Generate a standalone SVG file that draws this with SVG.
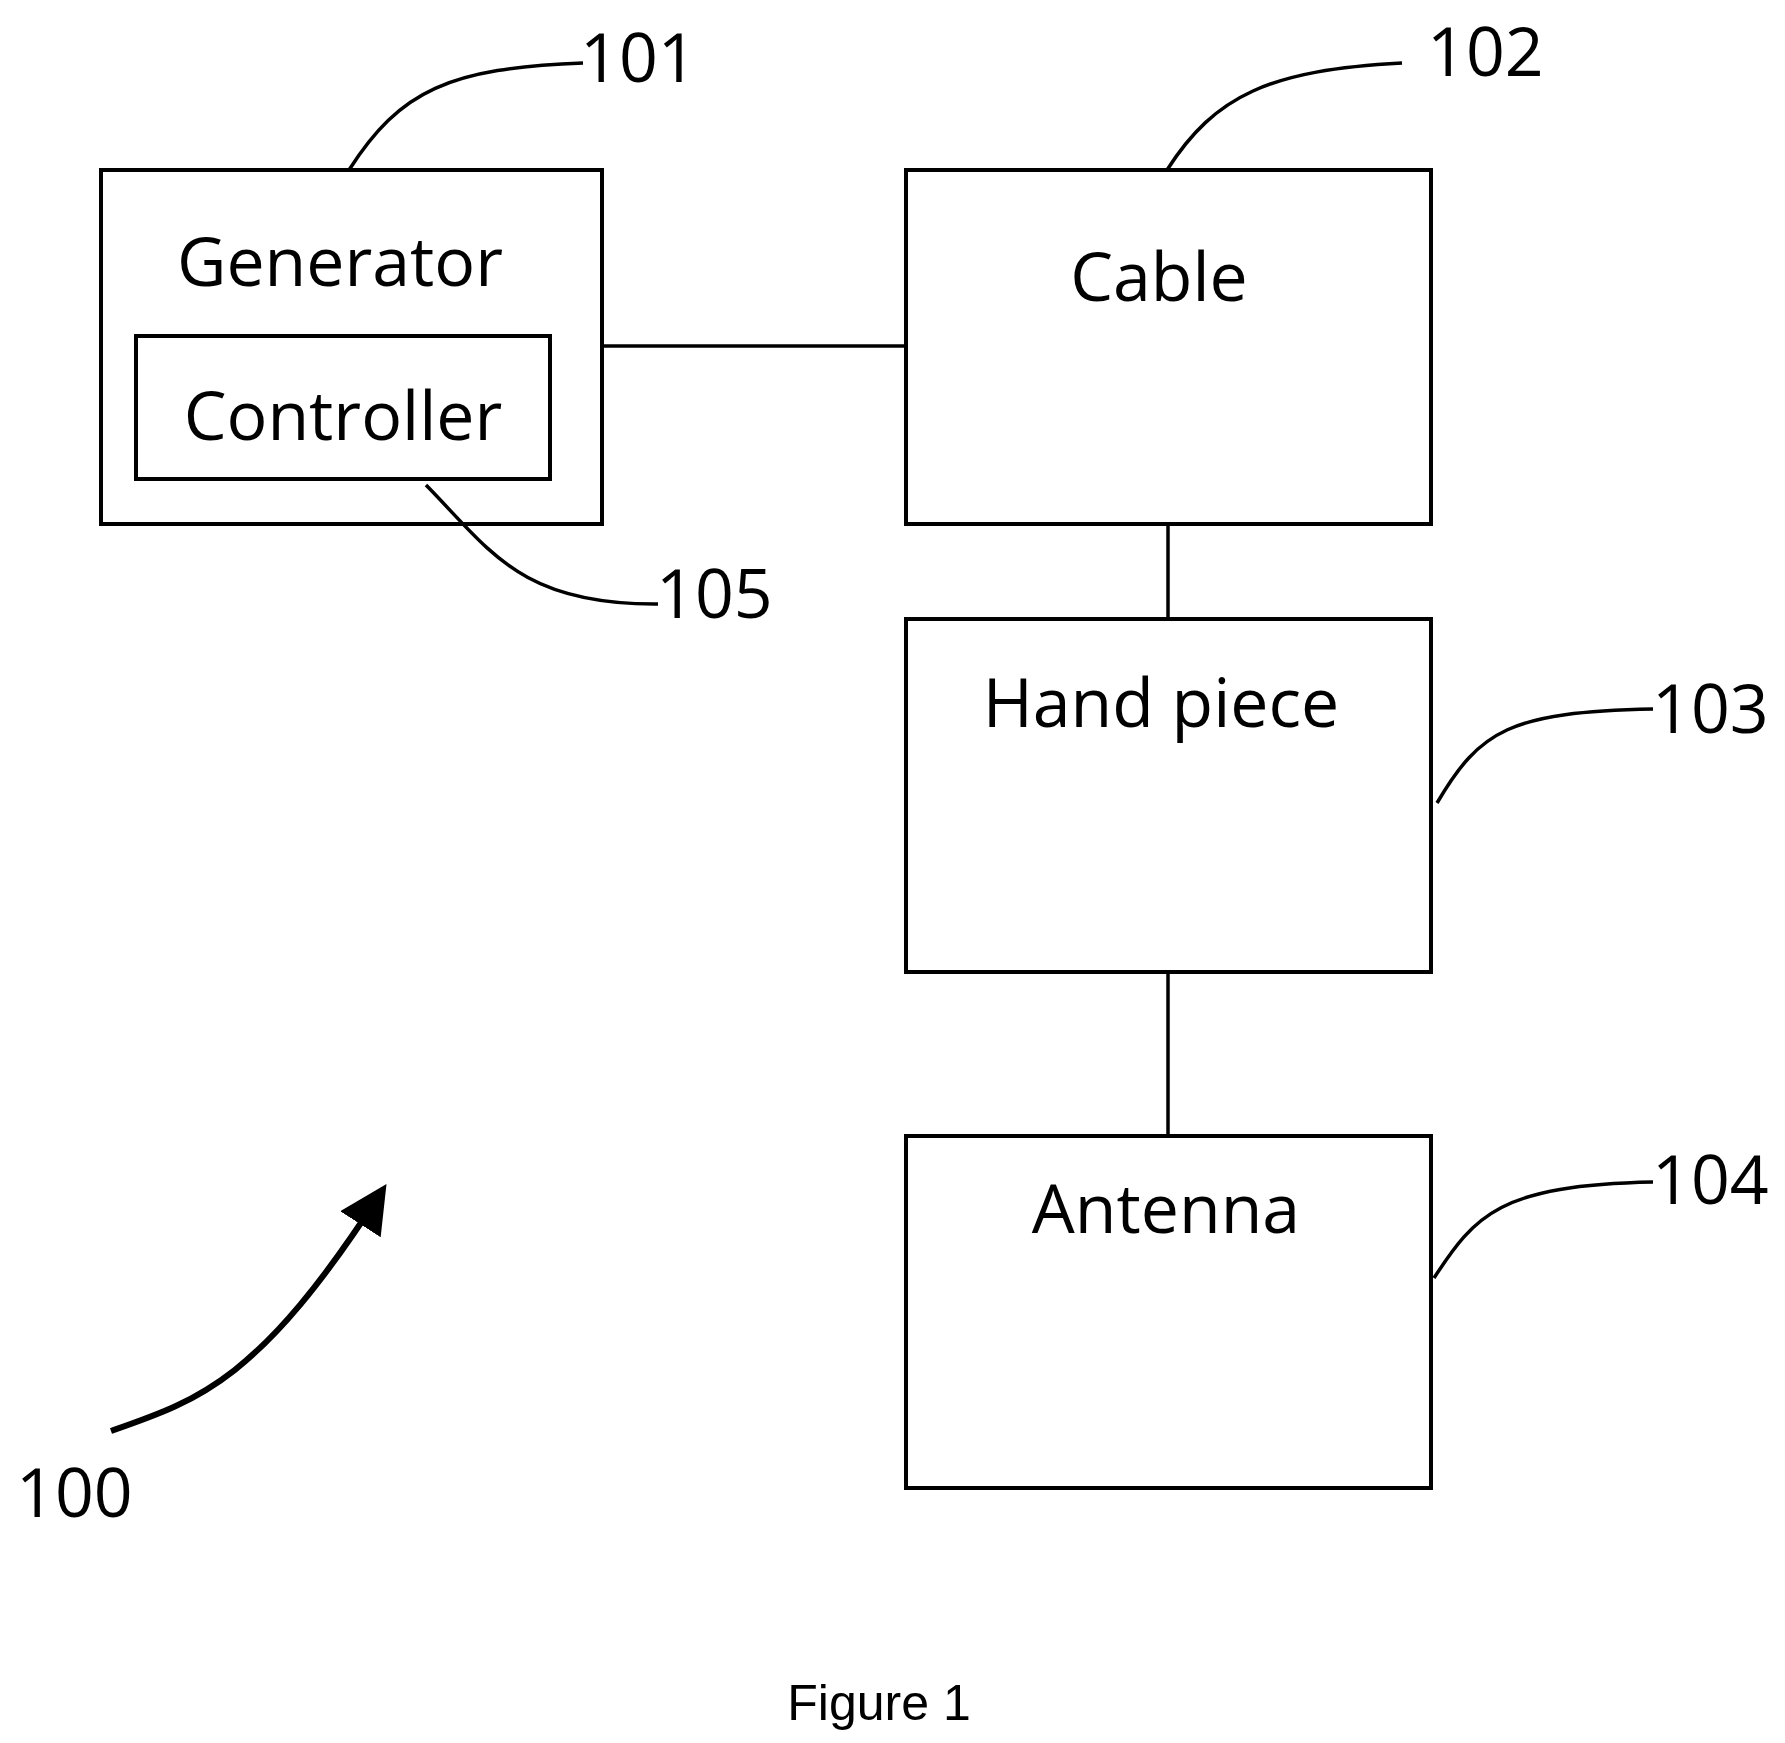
<svg xmlns="http://www.w3.org/2000/svg" width="1785" height="1743" viewBox="0 0 1785 1743">
<style>
.b{fill:none;stroke:#000;stroke-width:4}
.l{fill:none;stroke:#000;stroke-width:3.5}
text{font-family:"Open Sans","DejaVu Sans",sans-serif;font-size:68px;fill:#000}
.c{text-anchor:middle}
</style>
<defs><marker id="a" markerWidth="8" markerHeight="8" refX="6" refY="4" orient="auto" markerUnits="strokeWidth"><path d="M0,0 L8,4 L0,8 Z" fill="#000"/></marker></defs>
<rect width="1785" height="1743" fill="#fff"/>
<g id="generator"><rect class="b" x="101" y="170" width="501" height="354"/><text class="c" x="340" y="286">Generator</text></g>
<g id="controller"><rect class="b" x="136" y="336" width="414" height="143"/><text class="c" x="343" y="440">Controller</text></g>
<g id="cable"><rect class="b" x="906" y="170" width="525" height="354"/><text class="c" x="1159" y="301">Cable</text></g>
<g id="handpiece"><rect class="b" x="906" y="619" width="525" height="353"/><text class="c" x="1161" y="727">Hand piece</text></g>
<g id="antenna"><rect class="b" x="906" y="1136" width="525" height="352"/><text class="c" x="1166" y="1233">Antenna</text></g>
<g id="connectors">
<line class="l" x1="602" y1="346" x2="906" y2="346"/>
<line class="l" x1="1168" y1="524" x2="1168" y2="619"/>
<line class="l" x1="1168" y1="972" x2="1168" y2="1136"/>
<path class="l" d="M349,170 C400,90 450,68 583,63"/>
<path class="l" d="M1167,170 C1215,95 1270,70 1402,63"/>
<path class="l" d="M1437,803 C1480,730 1510,712 1653,709"/>
<path class="l" d="M1434,1278 C1475,1215 1500,1185 1653,1182"/>
<path class="l" d="M426,485 C490,550 520,605 658,604"/>
<path fill="none" stroke="#000" stroke-width="6" marker-end="url(#a)" d="M111,1431 C200,1400 260,1380 380,1194"/>
</g>
<g id="labels">
<text x="580" y="82">101</text>
<text x="1427" y="76">102</text>
<text x="1652" y="733">103</text>
<text x="1652" y="1204">104</text>
<text x="656" y="618">105</text>
<text x="16" y="1517">100</text>
<text class="c" x="879" y="1720" style="font-family:'Liberation Sans',Arial,sans-serif;font-size:50px">Figure 1</text>
</g>
</svg>
